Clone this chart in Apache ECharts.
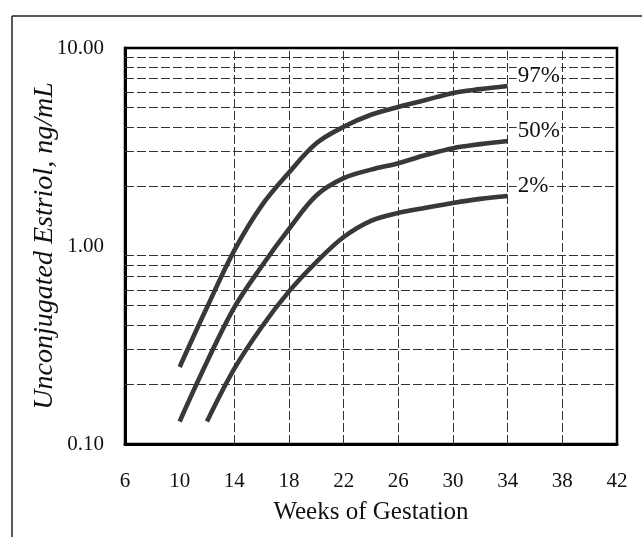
<!DOCTYPE html>
<html><head><meta charset="utf-8">
<script src="https://cdn.jsdelivr.net/npm/echarts@6/dist/echarts.min.js"></script>
<style>html,body{margin:0;padding:0;background:#fff}#c{width:642px;height:537px}</style>
</head><body><div id="c"></div>
<script>
// Weeks of gestation for each percentile curve
const weeksUpper = [10, 12, 14, 16, 18, 20, 22, 24, 26, 28, 30, 32, 34];
const weeksMid   = [10, 12, 14, 16, 18, 20, 22, 24, 26, 28, 30, 32, 34];
const weeksLower = [12, 14, 16, 18, 20, 22, 24, 26, 28, 30, 32, 34];
// Unconjugated estriol (ng/mL)
const p97 = [0.245, 0.49, 0.95, 1.6, 2.35, 3.3, 4.0, 4.6, 5.04, 5.46, 5.93, 6.2, 6.43];
const p50 = [0.13, 0.26, 0.49, 0.79, 1.22, 1.8, 2.2, 2.43, 2.62, 2.88, 3.12, 3.27, 3.39];
const p2  = [0.13, 0.24, 0.39, 0.59, 0.83, 1.11, 1.34, 1.47, 1.56, 1.65, 1.73, 1.79];
const seriesNames = ['97%', '50%', '2%'];
// Axis ticks / gridlines
const xMin = 6, xMax = 42, xStep = 4;
const yMin = 0.1, yMax = 10;
const xGridValues = [14, 18, 22, 26, 30, 34, 38];
const yGridValues = [0.2, 0.3, 0.4, 0.5, 0.6, 0.7, 0.8, 0.9, 2, 3, 4, 5, 6, 7, 8, 9];

const serif = '"Liberation Serif", "DejaVu Serif", serif';
const pair = (xs, ys) => xs.map((x, i) => [x, ys[i]]);

const curveStyle = (name, xs, ys) => ({
  name: name,
  type: 'line',
  data: pair(xs, ys),
  smooth: 0.35,
  showSymbol: false,
  z: 5,
  lineStyle: { color: '#383838', width: 4.6 },
  endLabel: {
    show: true,
    formatter: '{a}',
    offset: [1, -10],
    color: '#111',
    fontFamily: serif,
    fontSize: 23,
    backgroundColor: '#fff',
    padding: [0, 1]
  }
});

const chart = echarts.init(document.getElementById('c'), null, { renderer: 'canvas' });
chart.setOption({
  animation: false,
  backgroundColor: '#fff',
  grid: { left: 125, right: 25, top: 48, bottom: 93, show: true, borderColor: '#000', borderWidth: 2.5, backgroundColor: 'transparent' },
  xAxis: {
    type: 'value', min: xMin, max: xMax, interval: xStep,
    name: 'Weeks of Gestation', nameLocation: 'middle', nameGap: 56,
    nameTextStyle: { fontFamily: serif, fontSize: 25, color: '#111' },
    axisLine: { show: true, onZero: false, lineStyle: { color: '#000', width: 3 } },
    axisTick: { show: false },
    splitLine: { show: false },
    axisLabel: { color: '#111', fontFamily: serif, fontSize: 21, margin: 27 }
  },
  yAxis: {
    type: 'log', logBase: 10, min: yMin, max: yMax,
    name: 'Unconjugated Estriol, ng/mL', nameLocation: 'middle', nameGap: 66, nameRotate: 90,
    nameMoveOverlap: false,
    nameTextStyle: { fontFamily: serif, fontSize: 28, fontStyle: 'italic', color: '#111' },
    axisLine: { show: true, lineStyle: { color: '#000', width: 3 } },
    axisTick: { show: false },
    splitLine: { show: false },
    axisLabel: { color: '#111', fontFamily: serif, fontSize: 21, margin: 21,
      formatter: v => v.toFixed(2) }
  },
  graphic: [
    { type: 'line', shape: { x1: 12, y1: 16, x2: 642, y2: 16 }, style: { stroke: '#222', lineWidth: 1.5 } },
    { type: 'line', shape: { x1: 12, y1: 16, x2: 12, y2: 537 }, style: { stroke: '#222', lineWidth: 1.5 } }
  ],
  series: [
    {
      name: 'grid', type: 'line', data: [], silent: true, z: 1,
      markLine: {
        silent: true, symbol: 'none', label: { show: false },
        lineStyle: { color: '#333', width: 1, type: [9, 3] },
        data: xGridValues.map(v => ({ xAxis: v })).concat(yGridValues.map(v => ({ yAxis: v })))
      }
    },
    curveStyle(seriesNames[0], weeksUpper, p97),
    curveStyle(seriesNames[1], weeksMid, p50),
    curveStyle(seriesNames[2], weeksLower, p2)
  ]
});
</script></body></html>
